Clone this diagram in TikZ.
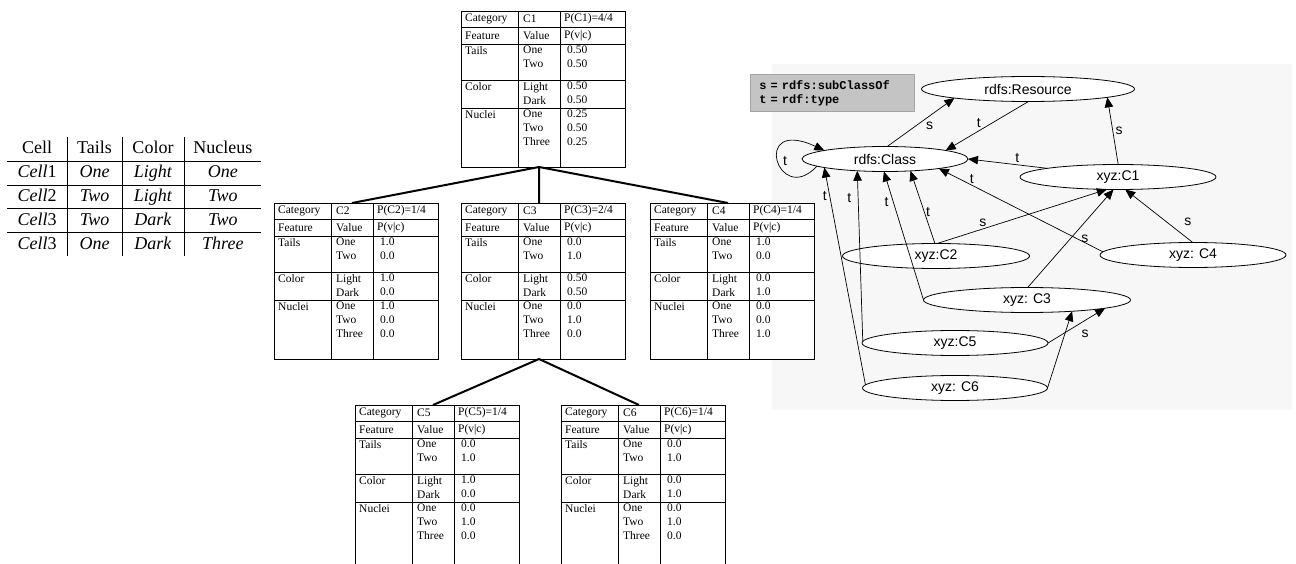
\documentclass[tikz,border=0pt]{standalone}
\usepackage{fontspec}
\setmainfont{Liberation Serif}
\newfontfamily\rdffont{Liberation Sans}
\newfontfamily\legendfont{Liberation Mono}
\usepackage{array}
\newcolumntype{C}[1]{>{\centering\arraybackslash}p{#1}}
\usepackage{xcolor}
\definecolor{graphbg}{HTML}{F7F7F7}
\definecolor{legendfill}{HTML}{C4C4C4}
\definecolor{legendline}{HTML}{A5A5A5}
\usepackage{tikz}
\usetikzlibrary{arrows.meta,positioning,shapes.geometric}
\tikzset{
  cobframe/.style={draw=black,line width=0.8pt,fill=white},
  cobrule/.style={draw=black,line width=0.8pt},
  cobhead/.style={anchor=west,inner sep=1pt,font=\fontsize{11.5}{14}\selectfont},
  cobcell/.style={anchor=north west,inner sep=1pt,align=left,font=\fontsize{11.5}{14}\selectfont},
  treelink/.style={line width=2pt},
  rdfnode/.style={ellipse,draw,fill=white,line width=0.8pt,minimum height=25pt,inner sep=0pt,outer sep=0pt,font=\rdffont\fontsize{14}{16}\selectfont},
  rdfedge/.style={-{Triangle[length=10pt,width=8.5pt]},line width=0.7pt},
  rdflbl/.style={inner sep=1.5pt,font=\rdffont\fontsize{14}{16}\selectfont},
  legendbox/.style={draw=legendline,fill=legendfill,line width=0.8pt,anchor=north west,align=left,text width=146pt,inner xsep=9pt,minimum height=37pt,font=\legendfont\bfseries\fontsize{12}{14}\selectfont},
}
% one cobweb concept table: [height]{name}{corner}{prior}{tails}{colour}{nuclei}
\newcommand{\cobtable}[7][156]{%
  \begin{scope}[shift={(#3)}]
    \draw[cobframe] (0,0) rectangle (164,#1);
    \draw[cobrule] (0,16) -- (164,16) (0,33) -- (164,33) (0,69) -- (164,69) (0,97) -- (164,97)
      (57,0) -- (57,#1) (99,0) -- (99,#1);
    \coordinate (#2-top) at (78,0);
    \coordinate (#2-bot) at (78,#1);
    \node[cobhead] (#2-cat) at (3,8) {Category};
    \node[cobhead] (#2-id) at (61,8) {#2};
    \node[cobhead] (#2-pr) at (102,8) {#4};
    \node[cobhead] (#2-fe) at (3,25) {Feature};
    \node[cobhead] (#2-va) at (61,25) {Value};
    \node[cobhead] (#2-pv) at (102,25) {P(v|c)};
    \node[cobcell] (#2-t) at (3,34) {Tails};
    \node[cobcell] (#2-tv) at (61,34) {One\\Two};
    \node[cobcell] (#2-tp) at (105,34) {#5};
    \node[cobcell] (#2-c) at (3,70) {Color};
    \node[cobcell] (#2-cv) at (61,70) {Light\\Dark};
    \node[cobcell] (#2-cp) at (105,70) {#6};
    \node[cobcell] (#2-n) at (3,98) {Nuclei};
    \node[cobcell] (#2-nv) at (61,98) {One\\Two\\Three};
    \node[cobcell] (#2-np) at (105,98) {#7};
  \end{scope}}

\begin{document}
\begin{tikzpicture}[x=1pt,y=-1pt]
\useasboundingbox (0,0) rectangle (1296,564);
\fill[graphbg] (772,64) rectangle (1292,410);

\node[anchor=north west,inner sep=0pt,font=\fontsize{18}{23.5}\selectfont] (cells) at (7,137) {%
  \setlength{\tabcolsep}{0pt}%
  \begin{tabular}{C{60pt}|C{54pt}|C{62pt}|C{77pt}}
    Cell & Tails & Color & Nucleus\\ \hline
    \textit{Cell}1 & \textit{One} & \textit{Light} & \textit{One}\\ \hline
    \textit{Cell}2 & \textit{Two} & \textit{Light} & \textit{Two}\\ \hline
    \textit{Cell}3 & \textit{Two} & \textit{Dark} & \textit{Two}\\ \hline
    \textit{Cell}3 & \textit{One} & \textit{Dark} & \textit{Three}
  \end{tabular}};

\cobtable{C1}{461,11}{P(C1)=4/4}{0.50\\0.50}{0.50\\0.50}{0.25\\0.50\\0.25}
\cobtable{C2}{274,203}{P(C2)=1/4}{1.0\\0.0}{1.0\\0.0}{1.0\\0.0\\0.0}
\cobtable{C3}{461,203}{P(C3)=2/4}{0.0\\1.0}{0.50\\0.50}{0.0\\1.0\\0.0}
\cobtable{C4}{650,203}{P(C4)=1/4}{1.0\\0.0}{0.0\\1.0}{0.0\\0.0\\1.0}
\cobtable[175]{C5}{355,405}{P(C5)=1/4}{0.0\\1.0}{1.0\\0.0}{0.0\\1.0\\0.0}
\cobtable[175]{C6}{561,405}{P(C6)=1/4}{0.0\\1.0}{0.0\\1.0}{0.0\\1.0\\0.0}
\draw[treelink] (C1-bot) -- (C2-top) (C1-bot) -- (C3-top) (C1-bot) -- (C4-top);
\draw[treelink] (C3-bot) -- (C5-top) (C3-bot) -- (C6-top);

\node[legendbox] (legend) at (750,74) {s = rdfs:subClassOf\\t = rdf:type};
\node[rdfnode,minimum width=213pt] (res) at (1028,89) {rdfs:Resource};
\node[rdfnode,minimum width=166pt] (cls) at (885,159) {rdfs:Class};
\node[rdfnode,minimum width=196pt] (xc1) at (1118,177) {xyz:C1};
\node[rdfnode,minimum width=187pt] (xc2) at (936,256) {xyz:C2};
\node[rdfnode,minimum width=186pt] (xc4) at (1193,255) {xyz: C4};
\node[rdfnode,minimum width=207pt] (xc3) at (1027,300) {xyz: C3};
\node[rdfnode,minimum width=186pt] (xc5) at (955,343) {xyz:C5};
\node[rdfnode,minimum width=185pt] (xc6) at (955,388) {xyz: C6};

\draw[rdfedge] (cls.186) .. controls (778,208) and (750,116) .. node[rdflbl,pos=.5,right=3pt] {t} (cls.172);
\draw[rdfedge] (cls.80) -- node[rdflbl,pos=.55,below right=0pt] {s} (res.187);
\draw[rdfedge] (res.272) -- node[rdflbl,pos=.6,above=1pt] {t} (cls.8);
\draw[rdfedge] (xc1.173) -- node[rdflbl,pos=.38,above=0pt] {t} (cls.east);
\draw[rdfedge] (xc1.89) -- node[rdflbl,pos=.5,right=1pt] {s} (res.-6);
\draw[rdfedge] (xc2.95) -- node[rdflbl,pos=.44,right=0pt] {t} (cls.-25.5);
\draw[rdfedge] (xc3.180) -- node[rdflbl,pos=.76,left=3pt] {t} (cls.265);
\draw[rdfedge] (xc4.178) -- node[rdflbl,pos=.8,above=0pt] {t} (cls.-10);
\draw[rdfedge] (xc5.179) -- node[rdflbl,pos=.84,left=5pt] {t} (cls.203);
\draw[rdfedge] (xc6.178) -- node[rdflbl,pos=.87,left=1pt] {t} (cls.188);
\draw[rdfedge] (xc2.85) -- node[rdflbl,pos=.27,above=0pt] {s} (xc1.228);
\draw[rdfedge] (xc3.87) -- node[rdflbl,pos=.5,right=9pt] {s} (xc1.250);
\draw[rdfedge] (xc4.91) -- node[rdflbl,pos=.39,right=16pt] {s} (xc1.300);
\draw[rdfedge] (xc5.east) -- node[rdflbl,pos=.65,below=8pt] {s} (xc3.-6);
\draw[rdfedge] (xc6.east) -- (xc3.-14);
\end{tikzpicture}
\end{document}
